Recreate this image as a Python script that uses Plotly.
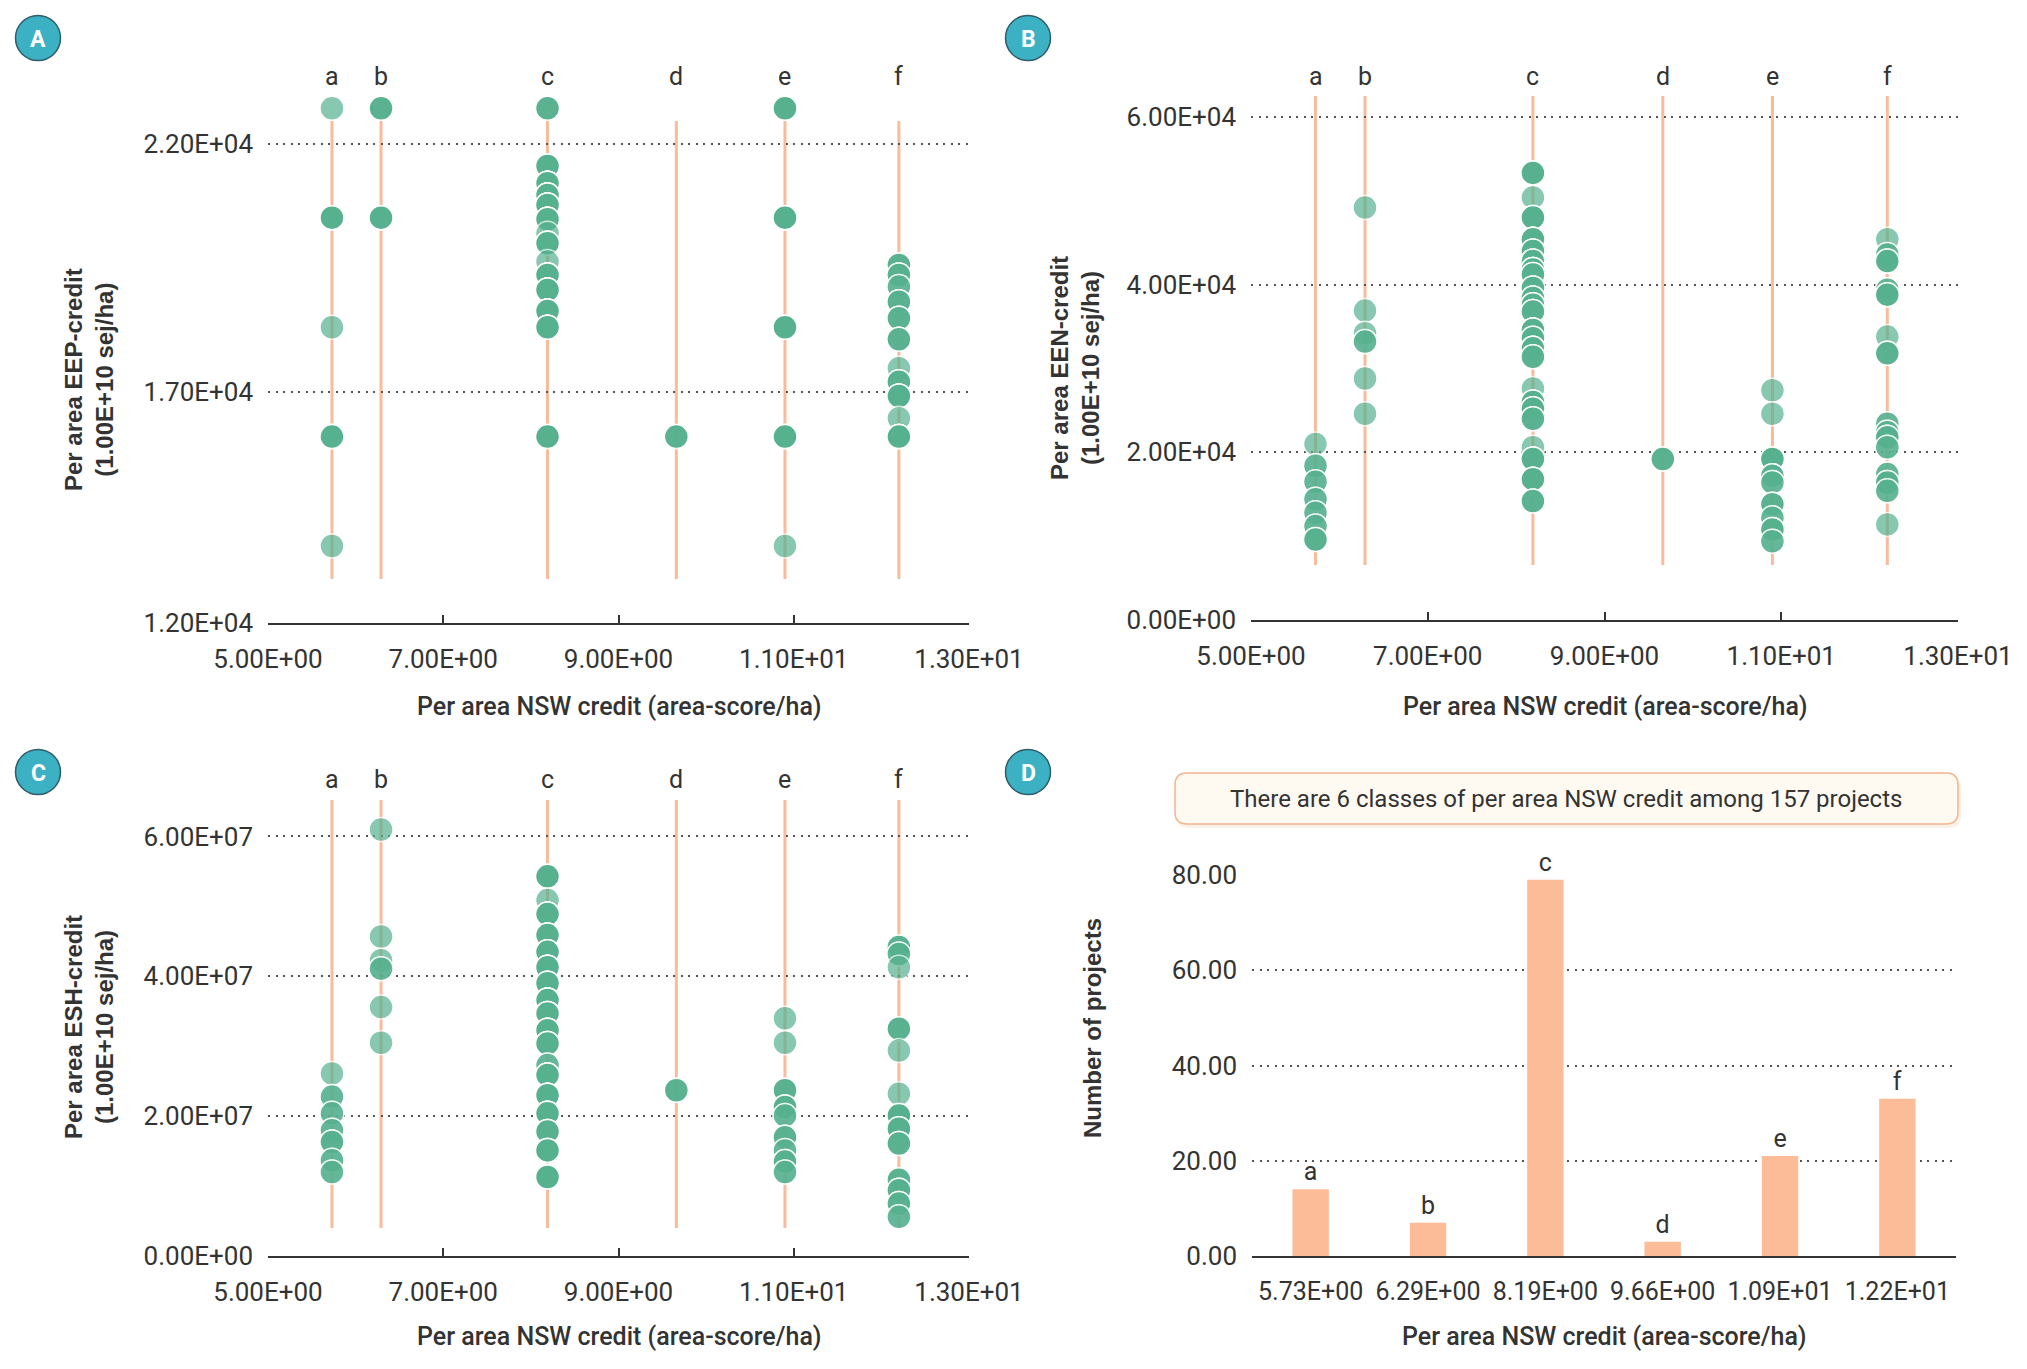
import numpy as np
import plotly.graph_objects as go

W, H = 2027, 1369
PAGE_PAD = 8  # default body margin of the html page around the figure

CLASS_LABELS = ["a", "b", "c", "d", "e", "f"]
CLASS_NSW = [5.73, 6.29, 8.19, 9.66, 10.9, 12.2]  # per area NSW credit of each class
CLASS_PROJECTS = [14, 7, 79, 3, 21, 33]

X_TICKS = [5, 7, 9, 11, 13]

# panel A: per area EEP-credit; class index, value, number of projects at that value
EEP_CLASS = [0, 0, 0, 0, 0,
             1, 1,
             2, 2, 2, 2, 2, 2, 2, 2, 2, 2, 2, 2, 2, 2,
             3,
             4, 4, 4, 4, 4,
             5, 5, 5, 5, 5, 5, 5, 5, 5, 5, 5]
EEP_VALUE = [22726, 20522, 18311, 16107, 13902,
             22726, 20522,
             22726, 21563, 21214, 20979, 20777, 20488, 20206, 20004, 19635, 19366, 19063, 18640, 18311, 16107,
             16107,
             22726, 20522, 18311, 16107, 13902,
             19567, 19366, 19131, 18828, 18492, 18069, 17484, 17215, 16926, 16476, 16107]
EEP_COUNT = [1, 4, 1, 7, 1,
             3, 4,
             3, 8, 6, 8, 6, 7, 1, 6, 1, 8, 7, 8, 6, 4,
             3,
             4, 5, 4, 7, 1,
             3, 3, 2, 3, 3, 3, 1, 3, 4, 1, 7]
EEP_TICKS = [12349, 17000, 22000]
EEP_TICKTEXT = ["1.20E+04", "1.70E+04", "2.20E+04"]

# panel B: per area EEN-credit
EEN_CLASS = [0, 0, 0, 0, 0, 0, 0,
             1, 1, 1, 1, 1, 1,
             2, 2, 2, 2, 2, 2, 2, 2, 2, 2, 2, 2, 2, 2, 2, 2, 2, 2, 2, 2, 2, 2, 2, 2,
             3,
             4, 4, 4, 4, 4, 4, 4, 4, 4,
             5, 5, 5, 5, 5, 5, 5, 5, 5, 5, 5, 5, 5, 5, 5]
EEN_VALUE = [21000, 18400, 16480, 14400, 12800, 11200, 9600,
             49200, 36900, 34200, 33200, 28800, 24600,
             53320, 50400, 48000, 45400, 44000, 42800, 41800, 41200, 39600, 38400, 37600, 36800,
             34600, 33600, 32400, 31400, 27600, 26000, 25200, 24000, 20600, 19200, 16800, 14200,
             19200,
             27400, 24600, 19200, 17200, 16400, 13800, 12200, 10800, 9400,
             45400, 43600, 42800, 39400, 38800, 33800, 31800, 23400, 22400, 21800, 20600, 17400,
             16400, 15400, 11400]
EEN_COUNT = [1, 2, 2, 2, 2, 2, 3,
             1, 1, 1, 2, 1, 1,
             4, 1, 4, 5, 3, 3, 5, 3, 3, 3, 4, 3,
             5, 3, 4, 3, 1, 3, 4, 3, 1, 4, 4, 3,
             3,
             1, 1, 4, 3, 2, 3, 2, 3, 2,
             1, 2, 3, 2, 3, 1, 3, 2, 3, 3, 2, 2,
             3, 2, 1]
EEN_TICKS = [0, 20000, 40000, 60000]

# panel C: per area ESH-credit
ESH_CLASS = [0, 0, 0, 0, 0, 0, 0,
             1, 1, 1, 1, 1, 1,
             2, 2, 2, 2, 2, 2, 2, 2, 2, 2, 2, 2, 2, 2, 2, 2, 2, 2,
             3,
             4, 4, 4, 4, 4, 4, 4, 4, 4,
             5, 5, 5, 5, 5, 5, 5, 5, 5, 5, 5, 5, 5]
ESH_VALUE = [26.1e6, 22.8e6, 20.4e6, 18.0e6, 16.3e6, 13.7e6, 12.0e6,
             61.0e6, 45.7e6, 42.3e6, 41.1e6, 35.6e6, 30.5e6,
             54.3e6, 50.9e6, 48.9e6, 45.9e6, 43.5e6, 41.3e6, 39.0e6, 36.6e6, 34.7e6,
             32.3e6, 30.4e6, 27.3e6, 25.9e6, 23.0e6, 20.4e6, 17.8e6, 15.1e6, 11.3e6,
             23.7e6,
             34.0e6, 30.5e6, 23.7e6, 21.3e6, 20.1e6, 17.0e6, 15.1e6, 13.5e6, 12.0e6,
             44.2e6, 43.2e6, 41.3e6, 32.5e6, 29.4e6, 23.2e6, 20.1e6, 18.2e6, 16.1e6,
             10.9e6, 9.4e6, 7.5e6, 5.6e6]
ESH_COUNT = [1, 2, 2, 2, 3, 2, 2,
             1, 1, 1, 2, 1, 1,
             4, 1, 4, 4, 4, 5, 4, 6, 4,
             5, 4, 2, 5, 5, 5, 4, 5, 8,
             3,
             1, 1, 3, 4, 2, 3, 2, 3, 2,
             3, 2, 1, 3, 1, 1, 4, 4, 3,
             3, 3, 3, 2]
ESH_TICKS = [0, 2e7, 4e7, 6e7]

BAR_TICKS = [0, 20, 40, 60, 80]

GREEN = "rgb(86,177,143)"
PEACH = "#f8bb9b"
BAR = "#fcbc98"
TEXT = "#333333"
FONT = "Roboto"
TITLE_FONT = "Liberation Sans, Arial, sans-serif"

FIG_W, FIG_H = W - 2 * PAGE_PAD, H - 2 * PAGE_PAD


def px(x):
    # window pixel -> paper x
    return (x - PAGE_PAD) / FIG_W


def py(y):
    # window pixel -> paper y
    return 1 - (y - PAGE_PAD) / FIG_H


def sci(v):
    return f"{v:.2E}"


def note(text, x, y, font, **kw):
    # paper annotation centred on a pixel position
    return dict(text=text, xref="paper", yref="paper", x=px(x), y=py(y), showarrow=False,
                xanchor="center", yanchor="middle", font=font, **kw)


# pixel boxes of the four plot areas: x0, x1, y_bottom, y_top
AREAS = {
    "A": (268, 969, 623, 60),
    "B": (1251, 1958, 620, 60),
    "C": (268, 969, 1256, 760),
    "D": (1252, 1956, 1256, 875),
}

fig = go.Figure()

panels = [
    ("A", "x", "y", EEP_CLASS, EEP_VALUE, EEP_COUNT),
    ("B", "x2", "y2", EEN_CLASS, EEN_VALUE, EEN_COUNT),
    ("C", "x3", "y3", ESH_CLASS, ESH_VALUE, ESH_COUNT),
]

for name, xa, ya, cls, val, cnt in panels:
    xs = np.repeat([CLASS_NSW[c] for c in cls], cnt)
    ys = np.repeat(val, cnt)
    fig.add_trace(go.Scatter(
        x=xs, y=ys, xaxis=xa, yaxis=ya, mode="markers",
        marker=dict(size=24, color=GREEN, opacity=0.7, line=dict(color="white", width=1.5)),
        showlegend=False, hoverinfo="x+y",
    ))

fig.add_trace(go.Bar(
    x=[sci(v) for v in CLASS_NSW], y=CLASS_PROJECTS, xaxis="x4", yaxis="y4",
    marker=dict(color=BAR, line=dict(width=0)), width=0.31,
    text=CLASS_LABELS, textposition="outside", cliponaxis=False,
    textfont=dict(family=FONT, size=25, color=TEXT), showlegend=False,
))

tickfont = dict(family=FONT, size=26, color=TEXT)
grid = dict(showgrid=True, gridcolor="#555555", gridwidth=2, griddash="2px,5.5px",
            showline=False, ticks="", zeroline=False, tickfont=tickfont, ticklabelstandoff=14,
            automargin=False)
xline = dict(showline=True, linecolor=TEXT, linewidth=2, showgrid=False, zeroline=False,
             tickfont=tickfont, ticklabelstandoff=12, tickangle=0, automargin=False)

layout = dict(
    width=FIG_W, height=FIG_H, autosize=False,
    margin=dict(l=0, r=0, t=0, b=0, pad=0, autoexpand=False),
    paper_bgcolor="white", plot_bgcolor="white",
    font=dict(family=FONT, color=TEXT),
)

yranges = {"A": [12349, 23700], "B": [0, 66786], "C": [0, 7.094e7], "D": [0, 80]}
yticks = {"A": (EEP_TICKS, EEP_TICKTEXT),
          "B": (EEN_TICKS, [sci(v) for v in EEN_TICKS]),
          "C": (ESH_TICKS, [sci(v) for v in ESH_TICKS]),
          "D": (BAR_TICKS, [f"{v:.2f}" for v in BAR_TICKS])}

for i, name in enumerate("ABCD"):
    x0, x1, yb, yt = AREAS[name]
    sfx = "" if i == 0 else str(i + 1)
    xax = dict(xline, domain=[px(x0), px(x1)], anchor="y" + sfx)
    if name == "D":
        xax.update(type="category", ticks="", tickfont=dict(tickfont, size=25))
    else:
        xax.update(range=[5, 13], tickvals=X_TICKS, ticktext=[sci(v) for v in X_TICKS],
                   ticks="inside", ticklen=8, tickwidth=2, tickcolor=TEXT)
    tv, tt = yticks[name]
    yax = dict(grid, domain=[py(yb), py(yt)], anchor="x" + sfx, range=yranges[name],
               tickvals=tv, ticktext=tt)
    layout["xaxis" + sfx] = xax
    layout["yaxis" + sfx] = yax

fig.update_layout(**layout)

shapes = []
annotations = []

# class guide lines and letters for the scatter panels
guides = {"A": ("x", 121, 579, 76), "B": ("x2", 96, 565, 76), "C": ("x3", 800, 1228, 779)}
for name, (xa, top, bottom, label_y) in guides.items():
    for lab, v in zip(CLASS_LABELS, CLASS_NSW):
        shapes.append(dict(type="line", xref=xa, yref="paper", x0=v, x1=v,
                           y0=py(bottom), y1=py(top), layer="below",
                           line=dict(color=PEACH, width=3)))
        annotations.append(dict(text=lab, xref=xa, yref="paper", x=v, y=py(label_y),
                                xanchor="center", yanchor="middle", showarrow=False,
                                font=dict(family=FONT, size=25, color=TEXT)))

# panel badges
badges = {"A": (38, 38), "B": (1028, 38), "C": (38, 772), "D": (1028, 772)}
r = 22.5
for name, (cx, cy) in badges.items():
    shapes.append(dict(type="circle", xref="paper", yref="paper",
                       x0=px(cx - r), x1=px(cx + r), y0=py(cy + r), y1=py(cy - r),
                       fillcolor="#3cb1c4", line=dict(color="#2d5e6a", width=1.5)))
    annotations.append(note(name, cx, cy + 1,
                            dict(family=FONT, size=23, color="white", weight="bold")))

# axis titles
xtitle = "Per area NSW credit (area-score/ha)"
for cx, cy in [(619, 706), (1605, 706), (619, 1336), (1604, 1336)]:
    annotations.append(note(xtitle, cx, cy, dict(family=FONT, size=25, color=TEXT, weight=500)))

ytitles = [
    ("Per area EEP-credit<br>(1.00E+10 sej/ha)", 89, 380),
    ("Per area EEN-credit<br>(1.00E+10 sej/ha)", 1075, 368),
    ("Per area ESH-credit<br>(1.00E+10 sej/ha)", 89, 1027),
    ("Number of projects", 1092, 1028),
]
for text, cx, cy in ytitles:
    annotations.append(note(text, cx, cy, dict(family=TITLE_FONT, size=24, color=TEXT, weight="bold"),
                            textangle=-90))


# rounded note box in panel D
def rounded_box(x0, y0, x1, y1, rad):
    rx, ry = rad / FIG_W, rad / FIG_H
    a, b, c, d = px(x0), py(y1), px(x1), py(y0)
    return (f"M {a + rx},{b} L {c - rx},{b} Q {c},{b} {c},{b + ry} "
            f"L {c},{d - ry} Q {c},{d} {c - rx},{d} L {a + rx},{d} Q {a},{d} {a},{d - ry} "
            f"L {a},{b + ry} Q {a},{b} {a + rx},{b} Z")


shapes.append(dict(type="path", xref="paper", yref="paper",
                   path=rounded_box(1177, 776, 1961, 828, 12),
                   fillcolor="rgba(240,170,120,0.18)", line=dict(width=0)))
shapes.append(dict(type="path", xref="paper", yref="paper",
                   path=rounded_box(1175, 773, 1958, 824, 12),
                   fillcolor="#fffaf1", line=dict(color="#f3b48e", width=1.5)))
annotations.append(note(f"There are {len(CLASS_LABELS)} classes of per area NSW credit among "
                        f"{sum(CLASS_PROJECTS)} projects", 1566, 799,
                        dict(family=FONT, size=24, color=TEXT)))

fig.update_layout(shapes=shapes, annotations=annotations)

fig.write_html("out.html")
